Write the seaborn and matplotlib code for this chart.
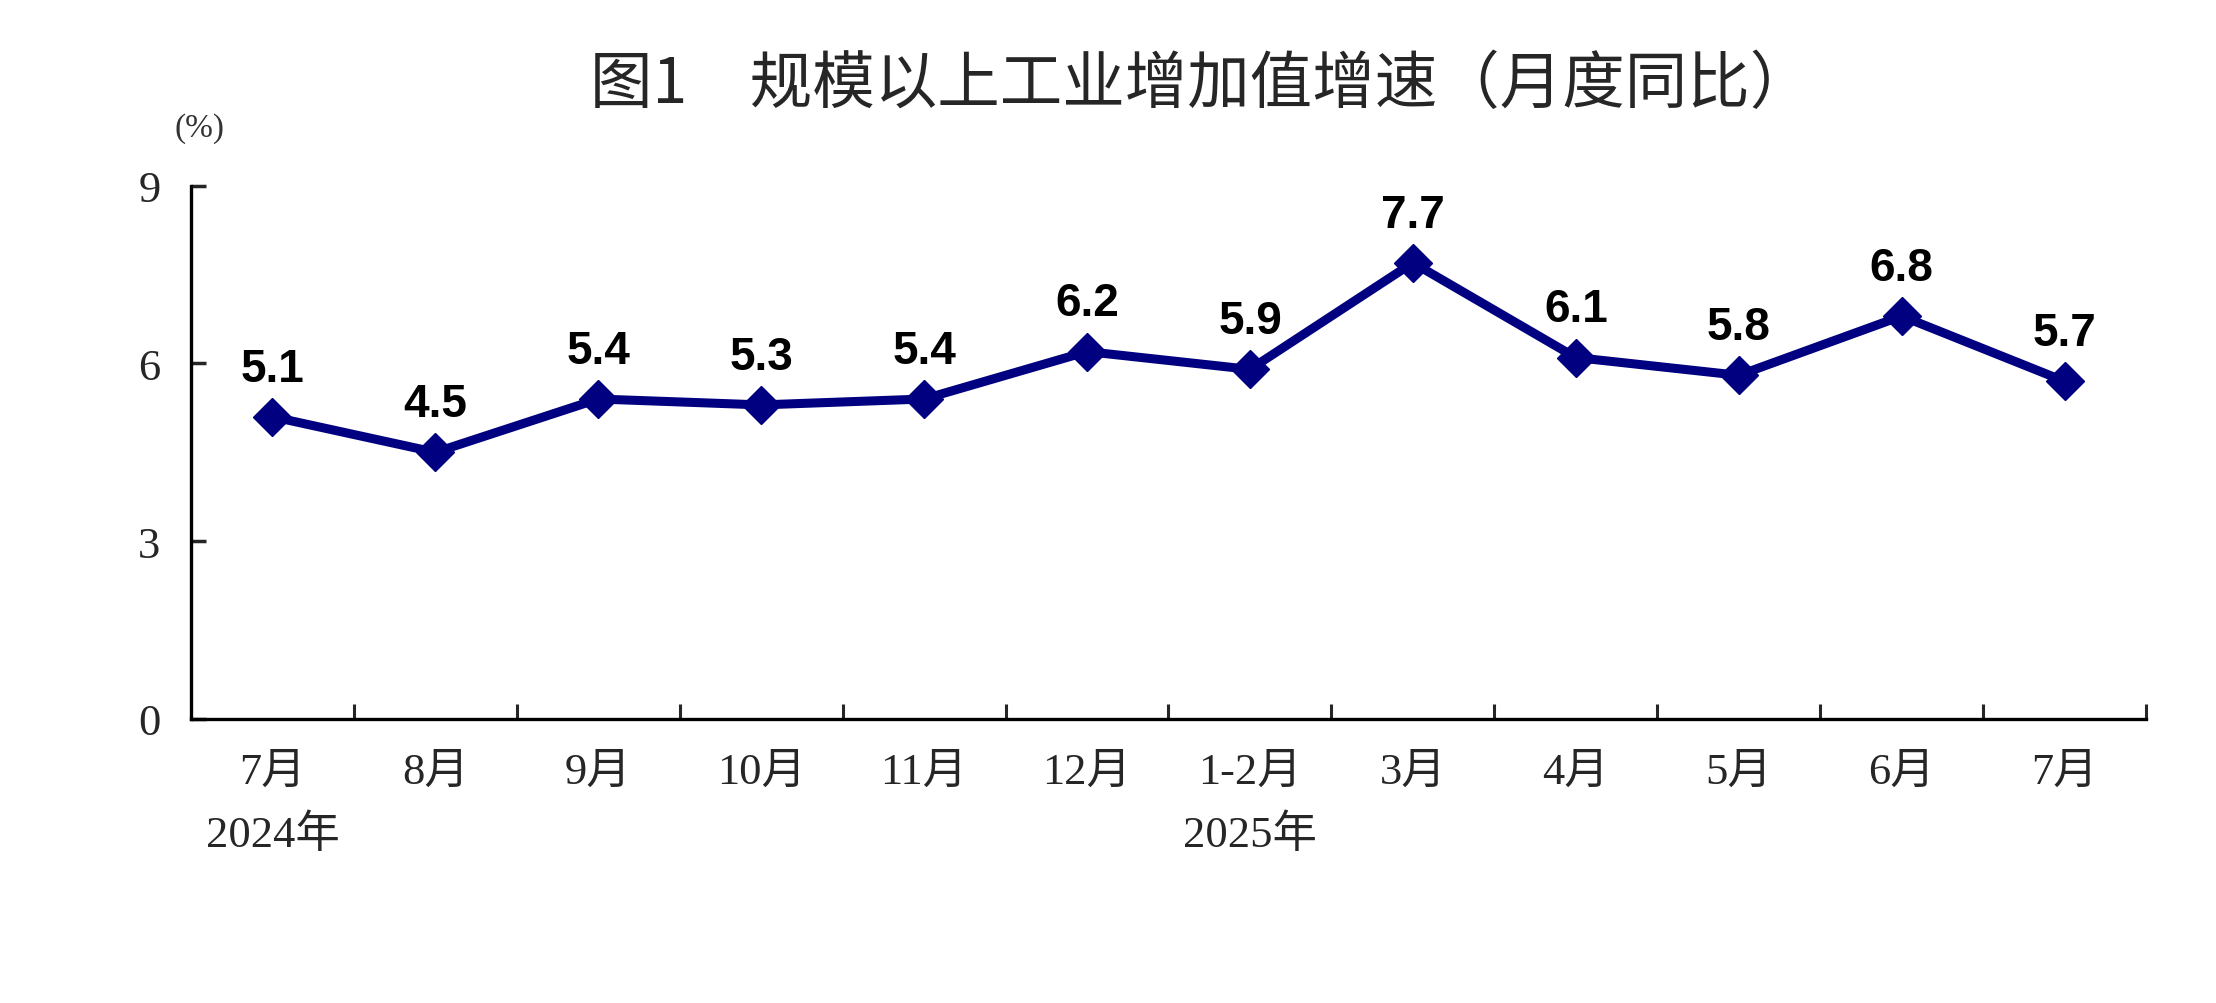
import numpy as np
import pandas as pd
import matplotlib
matplotlib.use('Agg')
import matplotlib.pyplot as plt
from matplotlib.ticker import FixedLocator
import seaborn as sns

# 数据
months = ['7月', '8月', '9月', '10月', '11月', '12月', '1-2月', '3月', '4月', '5月', '6月', '7月']
years = ['2024年', '', '', '', '', '', '2025年', '', '', '', '', '']
growth = [5.1, 4.5, 5.4, 5.3, 5.4, 6.2, 5.9, 7.7, 6.1, 5.8, 6.8, 5.7]
yticks = [0, 3, 6, 9]

title = '图1\u3000规模以上工业增加值增速（月度同比）'
line_color = '#000080'

sns.set_style('ticks')
plt.rcParams['font.family'] = ['Liberation Serif', 'Noto Sans CJK SC', 'DejaVu Sans']

df = pd.DataFrame({'pos': np.arange(len(growth)), 'value': growth})

fig = plt.figure(figsize=(22.16, 10.04), dpi=100)
ax = fig.add_axes([0.0862, 0.283, 0.8822, 0.531])

sns.lineplot(data=df, x='pos', y='value', ax=ax, color=line_color, lw=6.5,
             marker='D', markersize=19, markeredgecolor=line_color,
             markeredgewidth=1)

# 数据标签
for x, v in zip(df['pos'], df['value']):
    ax.annotate(f'{v:.1f}', (x, v), xytext=(0, 26), textcoords='offset points',
                ha='center', va='baseline', fontsize=33, fontweight='bold',
                family=['Liberation Sans'], color='black')

ax.set_xlim(-0.5, len(growth) - 0.5)
ax.set_ylim(0, 9)
ax.set_yticks(yticks)
ax.set_yticklabels([str(t) for t in yticks], fontsize=32,
                   family=['Liberation Serif'])

labels = [m + ('\n' + y if y else '') for m, y in zip(months, years)]
ax.set_xticks(df['pos'])
ax.set_xticklabels(labels, fontsize=32, linespacing=1.65, va='top',
                   family=['Liberation Serif', 'Noto Sans CJK SC'])
ax.xaxis.set_minor_locator(FixedLocator(np.arange(0.5, len(growth), 1)))
ax.tick_params(axis='x', which='major', length=0, pad=24)
ax.tick_params(axis='x', which='minor', direction='in', length=11, width=2.2)
ax.tick_params(axis='y', direction='in', length=11, width=2.5, pad=22)

ax.set_xlabel('')
ax.set_ylabel('')
sns.despine(ax=ax)
for s in ['left', 'bottom']:
    ax.spines[s].set_linewidth(2.4)
    ax.spines[s].set_color('black')

fig.text(0.542, 0.915, title, ha='center', va='center', fontsize=45,
         fontweight='medium', family=['Noto Sans CJK SC'])
fig.text(0.090, 0.872, '(%)', ha='center', va='center', fontsize=24,
         color='#333333', family=['Liberation Serif'])

fig.savefig('out.png', dpi=100, facecolor='white')
